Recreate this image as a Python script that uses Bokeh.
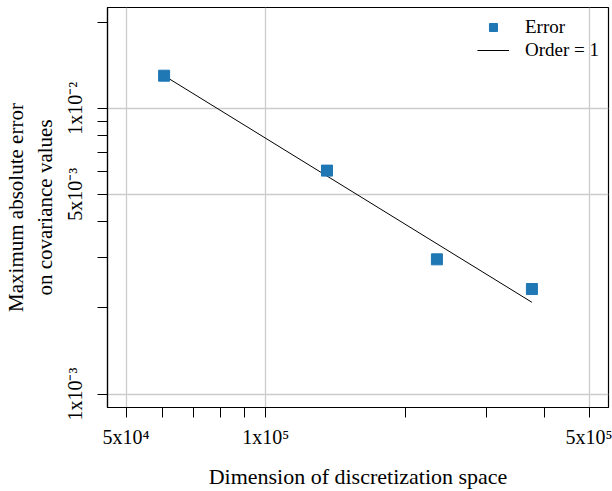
from bokeh.plotting import figure
from bokeh.models import FixedTicker, Range1d, Legend, LegendItem
from bokeh.embed import file_html
from bokeh.resources import INLINE

# Data
dims = [60400, 135600, 234000, 375000]
errors = [0.0130, 0.00605, 0.00296, 0.00233]

# Order-1 reference line anchored at the first point
order_x = [dims[0], dims[-1]]
order_y = [errors[0] * dims[0] / x for x in order_x]

x_major = [5e4, 1e5, 5e5]
x_minor = [6e4, 7e4, 8e4, 9e4, 2e5, 3e5, 4e5]
x_labels = ["5x10\u2074", "1x10\u2075", "5x10\u2075"]
y_major = [1e-3, 5e-3, 1e-2]
y_minor = [2e-3, 3e-3, 4e-3, 6e-3, 7e-3, 8e-3, 9e-3, 2e-2]
y_labels = ["1x10\u207b\u00b3", "5x10\u207b\u00b3", "1x10\u207b\u00b2"]

FONT = "Liberation Serif"

p = figure(width=612, height=491, x_axis_type="log", y_axis_type="log",
           x_range=Range1d(45600, 548500), y_range=Range1d(8.97e-4, 0.02252),
           output_backend="svg", toolbar_location=None,
           min_border_left=107, min_border_right=4, min_border_top=7,
           min_border_bottom=82)

p.outline_line_color = "black"
p.outline_line_width = 1.2

for g in (p.xgrid, p.ygrid):
    g.grid_line_color = "#cccccc"
    g.grid_line_width = 1.3

p.xaxis.ticker = FixedTicker(ticks=x_major, minor_ticks=x_minor)
p.yaxis.ticker = FixedTicker(ticks=y_major, minor_ticks=y_minor)
p.xaxis.major_label_overrides = {v: l for v, l in zip(x_major, x_labels)}
p.yaxis.major_label_overrides = {v: l for v, l in zip(y_major, y_labels)}
p.yaxis.major_label_orientation = "vertical"

for ax in (p.xaxis, p.yaxis):
    ax.axis_line_color = "black"
    ax.axis_line_width = 1.2
    ax.major_tick_out = 10
    ax.major_tick_in = 0
    ax.minor_tick_out = 10
    ax.minor_tick_in = 0
    ax.major_tick_line_color = "black"
    ax.minor_tick_line_color = "black"
    ax.major_label_text_font = FONT
    ax.major_label_text_font_size = "20px"
    ax.major_label_text_color = "black"
    ax.axis_label_text_font = FONT
    ax.axis_label_text_font_style = "normal"
    ax.axis_label_text_color = "black"
    ax.axis_label_text_align = "center"

p.xaxis.axis_label_text_font_size = "22px"
p.yaxis.axis_label_text_font_size = "21px"
p.xaxis.axis_label = "Dimension of discretization space"
p.yaxis.axis_label = "Maximum absolute error\non covariance values"
p.xaxis.major_label_standoff = 8
p.yaxis.major_label_standoff = 11
p.xaxis.axis_label_standoff = 13
p.yaxis.axis_label_standoff = 5

ln = p.line(order_x, order_y, line_color="black", line_width=1)
sq = p.scatter(dims, errors, marker="square", size=11, fill_color="#1f77b4",
               line_color="#1f77b4")

legend = Legend(items=[LegendItem(label="Error", renderers=[sq]),
                       LegendItem(label="Order = 1", renderers=[ln])],
                location="top_right", border_line_color=None,
                background_fill_alpha=0, margin=9, padding=2, spacing=1,
                glyph_width=32, glyph_height=20, label_height=20,
                label_standoff=16, label_text_font=FONT,
                label_text_font_size="19px", label_text_color="black")
p.add_layout(legend)

open("out.html", "w").write(file_html(p, INLINE))
